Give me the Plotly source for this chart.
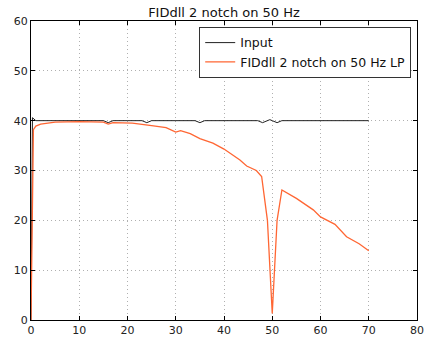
import plotly.graph_objects as go

title = "FIDdll 2 notch on 50 Hz"
input_name = "Input"
output_name = "FIDdll 2 notch on 50 Hz LP"

input_x = [0, 0.3, 1, 5, 10, 14, 15, 16, 17, 20, 23, 24, 25, 30, 34, 35, 36, 40, 45, 47, 48, 49, 49.5, 50, 51, 52, 55, 60, 65, 70]
input_y = [0, 40.6, 40.0, 40.0, 40.0, 40.0, 40.0, 39.6, 40.0, 40.0, 40.0, 39.6, 40.0, 40.0, 40.0, 39.6, 40.0, 40.0, 40.0, 40.0, 39.6, 40.1, 40.2, 40.0, 39.6, 40.0, 40.0, 40.0, 40.0, 40.0]

output_x = [0, 0.5, 1, 2, 5, 10, 15, 16, 17, 21, 25, 28, 30, 31, 33, 35, 37.7, 40, 43.3, 44.7, 46.7, 47.8, 49, 50, 51, 52, 55, 58.5, 60, 62, 63, 65.4, 68, 70]
output_y = [0, 38.2, 38.9, 39.3, 39.7, 39.8, 39.7, 39.3, 39.6, 39.5, 39.0, 38.6, 37.7, 38.0, 37.4, 36.4, 35.5, 34.3, 32.1, 30.9, 30.0, 28.8, 20.0, 1.3, 20.0, 26.1, 24.4, 22.1, 20.7, 19.6, 19.2, 16.7, 15.3, 13.9]

x_ticks = [0, 10, 20, 30, 40, 50, 60, 70, 80]
y_ticks = [0, 10, 20, 30, 40, 50, 60]

W, H = 436, 342
ML, MR, MT, MB = 31, 19, 21, 22

fig = go.Figure()
fig.add_trace(go.Scatter(x=input_x, y=input_y, mode="lines", name=input_name,
                         line=dict(color="#222222", width=1)))
fig.add_trace(go.Scatter(x=output_x, y=output_y, mode="lines", name=output_name,
                         line=dict(color="#ff6633", width=1.3)))

axis_common = dict(
    showline=True, linecolor="black", linewidth=1, mirror="allticks",
    ticks="inside", ticklen=4, tickcolor="black",
    showgrid=True, gridcolor="#b0b0b0", griddash="1px,3px", gridwidth=1,
    zeroline=False, automargin=False,
    tickfont=dict(family="DejaVu Sans", size=11, color="#222222"),
)

fig.update_layout(
    width=W, height=H,
    margin=dict(l=ML, r=MR, t=MT, b=MB),
    paper_bgcolor="white", plot_bgcolor="white",
    title=dict(text=title, x=(ML + (W - MR)) / 2 / W, xanchor="center", y=1 - 12 / H, yanchor="middle",
               font=dict(family="DejaVu Sans", size=13, color="#111111")),
    xaxis=dict(range=[0, 80], tickvals=x_ticks, **axis_common),
    yaxis=dict(range=[0, 60], tickvals=y_ticks, **axis_common),
    legend=dict(x=0.985, y=0.98, xanchor="right", yanchor="top",
                bordercolor="#333333", borderwidth=1, bgcolor="white",
                font=dict(family="DejaVu Sans", size=12.5, color="#111111"),
                tracegroupgap=0),
    showlegend=True,
)

fig.write_html("out.html", config={"displayModeBar": False},
               post_script="document.body.style.margin='0';")
